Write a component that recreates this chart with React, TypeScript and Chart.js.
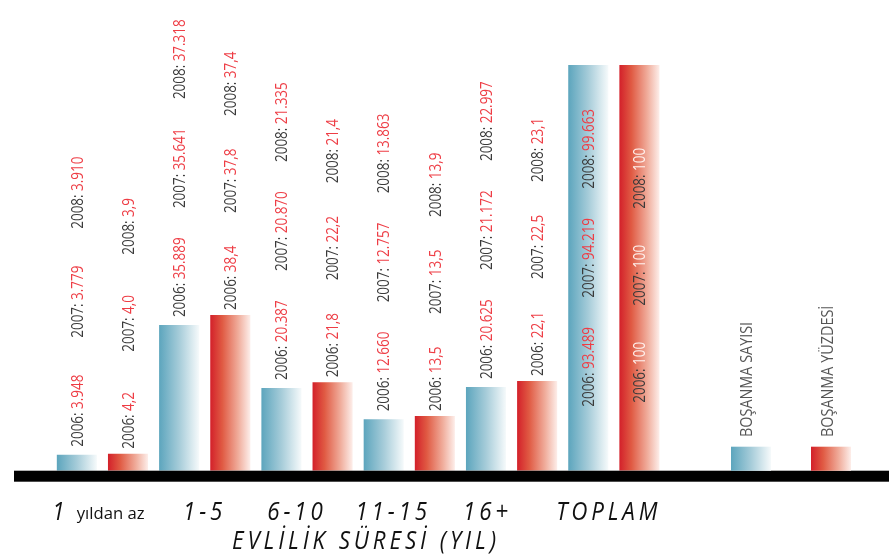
import React, { useEffect, useRef } from "react";
import { Chart, registerables } from "chart.js";

Chart.register(...registerables);

// ---- data ----
const categories = ["1", "1-5", "6-10", "11-15", "16+", "TOPLAM"];
const categorySuffix = ["yıldan az", "", "", "", "", ""];
const axisTitle = "EVLİLİK SÜRESİ (YIL)";
const seriesNames = ["BOŞANMA SAYISI", "BOŞANMA YÜZDESİ"];
const years = ["2006", "2007", "2008"];

// divorce counts (thousands)
const count2006 = [3.948, 35.889, 20.387, 12.66, 20.625, 93.489];
const count2007 = [3.779, 35.641, 20.87, 12.757, 21.172, 94.219];
const count2008 = [3.91, 37.318, 21.335, 13.863, 22.997, 99.663];
// divorce share (%)
const pct2006 = [4.2, 38.4, 21.8, 13.5, 22.1, 100];
const pct2007 = [4.0, 37.8, 22.2, 13.5, 22.5, 100];
const pct2008 = [3.9, 37.4, 21.4, 13.9, 23.1, 100];

// bar heights as drawn (2006); the total count bar is drawn full height
const countBars = [3.948, 35.889, 20.387, 12.66, 20.625, 100];
const pctBars = [4.2, 38.4, 21.8, 13.5, 22.1, 100];
const labelsInside = [false, false, false, false, false, true];

// layout tuning (not data)
const CAT_PCT = 1.0;
const BAR_PCT = 0.784;
const TICK_NUDGE = [-4, -2, -12, -18, -26, -7];

const BLUE_STOPS: [number, string][] = [
  [0, "#5ca5bd"],
  [0.5, "#a6ccd9"],
  [1, "#f6fafb"],
];
const RED_STOPS: [number, string][] = [
  [0, "#d3202a"],
  [0.3, "#e05a43"],
  [0.7, "#f0ad9c"],
  [1, "#fdeeea"],
];

const fmtCount = (v: number) => v.toFixed(3);
const fmtPct = (v: number) => (v === 100 ? "100" : v.toFixed(1).replace(".", ","));

function barGradient(c: any, stops: [number, string][]) {
  const chart = c.chart;
  const xs = chart.scales && chart.scales.x;
  if (!xs || c.type !== "data") return stops[0][1];
  const n = chart.data.labels.length;
  const cw = (xs.right - xs.left) / n;
  const nd = chart.data.datasets.length;
  const slot = (cw * CAT_PCT) / nd;
  const center = xs.getPixelForValue(c.dataIndex) - (cw * CAT_PCT) / 2 + slot * (c.datasetIndex + 0.5);
  const w = slot * BAR_PCT;
  if (!Number.isFinite(center) || !Number.isFinite(w) || w <= 0) return stops[0][1];
  const g = chart.ctx.createLinearGradient(center - w / 2, 0, center + w / 2, 0);
  stops.forEach(([o, col]) => g.addColorStop(o, col));
  return g;
}

function rectGradient(ctx: CanvasRenderingContext2D, x0: number, x1: number, stops: [number, string][]) {
  const g = ctx.createLinearGradient(x0, 0, x1, 0);
  stops.forEach(([o, col]) => g.addColorStop(o, col));
  return g;
}

// draws text rotated -90deg, starting at (cx, yBottom) going upward; returns length in px
function drawUp(
  ctx: CanvasRenderingContext2D,
  cx: number,
  yBottom: number,
  parts: { text: string; color: string }[],
  size: number,
  sx: number,
  weight = "400"
) {
  ctx.save();
  ctx.translate(cx, yBottom);
  ctx.rotate(-Math.PI / 2);
  ctx.scale(sx, 1);
  ctx.font = `${weight} ${size}px "Open Sans", "Noto Sans", sans-serif`;
  ctx.textBaseline = "alphabetic";
  ctx.textAlign = "left";
  let off = 0;
  const capH = size * 0.72;
  for (const p of parts) {
    ctx.fillStyle = p.color;
    ctx.fillText(p.text, off, capH / 2);
    off += ctx.measureText(p.text).width;
  }
  ctx.restore();
  return off * sx;
}

const decorPlugin = {
  id: "decor",
  afterDatasetsDraw(chart: any) {
    const ctx: CanvasRenderingContext2D = chart.ctx;
    const xs = chart.scales.x;
    const ys = chart.scales.y;
    const base = ys.getPixelForValue(0);

    // baseline band
    ctx.save();
    ctx.fillStyle = "#000";
    ctx.fillRect(14, base, chart.width - 14, 11);
    ctx.restore();

    // value labels
    const series = [
      { vals: [count2006, count2007, count2008], fmt: fmtCount, step: 109, lift: 8, inside: 64 },
      { vals: [pct2006, pct2007, pct2008], fmt: fmtPct, step: 97, lift: 5, inside: 68 },
    ];
    series.forEach((s, d) => {
      const meta = chart.getDatasetMeta(d);
      meta.data.forEach((bar: any, i: number) => {
        const inside = labelsInside[i];
        const y0 = inside ? base - s.inside : bar.y - s.lift;
        const valColor = inside && d === 1 ? "#fff2ee" : "#ee3d45";
        years.forEach((yr, k) => {
          drawUp(
            ctx,
            bar.x,
            y0 - k * s.step,
            [
              { text: `${yr}: `, color: "#3a3a3a" },
              { text: s.fmt(s.vals[k][i]), color: valColor },
            ],
            16,
            0.84
          );
        });
      });
    });

    // category labels
    const CAT_FONT = `italic 26px "Open Sans", sans-serif`;
    const CAT_SX = 0.86;
    const CAT_LS = 4.5;
    ctx.save();
    ctx.fillStyle = "#111";
    ctx.textBaseline = "alphabetic";
    categories.forEach((cat, i) => {
      const cx = xs.getPixelForValue(i) + TICK_NUDGE[i];
      const suffix = categorySuffix[i];
      ctx.save();
      (ctx as any).letterSpacing = `${CAT_LS}px`;
      ctx.font = CAT_FONT;
      const w1 = (ctx.measureText(cat).width - CAT_LS) * CAT_SX;
      let w2 = 0;
      const SUF_SX = 0.98;
      const SUF_GAP = 12;
      if (suffix) {
        ctx.save();
        (ctx as any).letterSpacing = "0px";
        ctx.font = `17px "Open Sans", sans-serif`;
        w2 = ctx.measureText(suffix).width * SUF_SX + SUF_GAP;
        ctx.restore();
      }
      const total = w1 + w2;
      const x0 = cx - total / 2;
      ctx.translate(x0, 520);
      ctx.scale(CAT_SX, 1);
      ctx.fillText(cat, 0, 0);
      ctx.restore();
      if (suffix) {
        ctx.save();
        (ctx as any).letterSpacing = "0px";
        ctx.font = `17px "Open Sans", sans-serif`;
        ctx.translate(x0 + w1 + SUF_GAP, 519);
        ctx.scale(SUF_SX, 1);
        ctx.fillText(suffix, 0, 0);
        ctx.restore();
      }
    });
    ctx.restore();

    // axis title
    ctx.save();
    ctx.fillStyle = "#111";
    (ctx as any).letterSpacing = `${CAT_LS}px`;
    ctx.font = CAT_FONT;
    const tw = (ctx.measureText(axisTitle).width - CAT_LS) * CAT_SX;
    ctx.translate(364 - tw / 2, 549);
    ctx.scale(CAT_SX, 1);
    ctx.fillText(axisTitle, 0, 0);
    ctx.restore();

    // legend
    const legend = [
      { x: 731, stops: BLUE_STOPS, text: seriesNames[0], tx: 746 },
      { x: 811, stops: RED_STOPS, text: seriesNames[1], tx: 827 },
    ];
    legend.forEach((l) => {
      ctx.save();
      ctx.fillStyle = rectGradient(ctx, l.x, l.x + 40, l.stops);
      ctx.fillRect(l.x, base - 24, 40, 24);
      ctx.restore();
      drawUp(ctx, l.tx, 437, [{ text: l.text, color: "#555" }], 16, 0.9, "400");
    });
  },
};

export default function App() {
  const ref = useRef<HTMLCanvasElement | null>(null);
  useEffect(() => {
    if (!ref.current) return;
    const chart = new Chart(ref.current, {
      type: "bar",
      data: {
        labels: categories,
        datasets: [
          {
            label: seriesNames[0],
            data: countBars,
            backgroundColor: (c: any) => barGradient(c, BLUE_STOPS),
            borderWidth: 0,
          },
          {
            label: seriesNames[1],
            data: pctBars,
            backgroundColor: (c: any) => barGradient(c, RED_STOPS),
            borderWidth: 0,
          },
        ],
      },
      options: {
        animation: false,
        responsive: true,
        maintainAspectRatio: false,
        categoryPercentage: CAT_PCT,
        barPercentage: BAR_PCT,
        layout: { padding: { left: 51.3, right: 224, top: 65, bottom: 83.3 } },
        scales: {
          x: { display: false },
          y: { display: false, min: 0, max: 100 },
        },
        plugins: {
          legend: { display: false },
          tooltip: { enabled: false },
        },
      } as any,
      plugins: [decorPlugin],
    });
    return () => chart.destroy();
  }, []);
  return (
    <div style={{ position: "fixed", left: 0, top: 0, width: 889, height: 554, background: "#fff" }}>
      <canvas ref={ref} />
    </div>
  );
}
